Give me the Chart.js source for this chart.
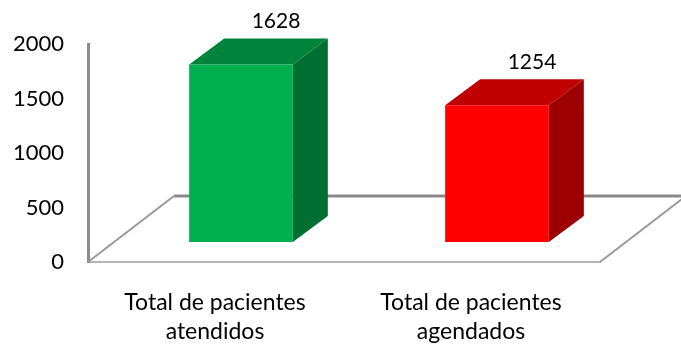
<!DOCTYPE html>
<html>
<head>
<meta charset="utf-8">
<style>
  body { margin: 0; background: #fff; }
  canvas { display: block; }
</style>
<script src="https://cdn.jsdelivr.net/npm/chart.js@4"></script>
</head>
<body>
<canvas id="chart" width="681" height="345"></canvas>
<script>
const categories = [["Total de pacientes", "atendidos"], ["Total de pacientes", "agendados"]];
const pacientes = [1628, 1254];
const yTicks = [0, 500, 1000, 1500, 2000];

const frontColors = ["#00b050", "#ff0000"];
const topColors = ["#00843c", "#c00000"];
const sideColors = ["#006f32", "#9c0000"];

const fontFamily = "Lato, 'Open Sans', sans-serif";

// the library has no 3D bars, so floor and box sides are added around its own bars
const shiftX = 25, shiftY = 20;   // where the front face sits on the floor
const depthX = 35, depthY = 26;   // box depth
const floorX = 86, floorY = 66;   // floor depth

function poly(ctx, color, pts) {
  ctx.fillStyle = color;
  ctx.beginPath();
  pts.forEach((p, i) => (i ? ctx.lineTo(p[0], p[1]) : ctx.moveTo(p[0], p[1])));
  ctx.closePath();
  ctx.fill();
}

const box3d = {
  id: "box3d",
  beforeDatasetsDraw(chart) {
    const ctx = chart.ctx;
    const a = chart.chartArea;
    ctx.save();
    ctx.strokeStyle = "#8a8a8a";
    ctx.lineWidth = 3;
    ctx.beginPath();
    ctx.moveTo(a.left + floorX, a.bottom - floorY);
    ctx.lineTo(chart.width, a.bottom - floorY);
    ctx.stroke();
    ctx.lineWidth = 2;
    ctx.strokeStyle = "#999999";
    ctx.beginPath();
    ctx.moveTo(a.left, a.bottom);
    ctx.lineTo(a.left + floorX, a.bottom - floorY);
    ctx.moveTo(a.right, a.bottom);
    ctx.lineTo(a.right + floorX, a.bottom - floorY);
    ctx.stroke();
    ctx.restore();
  },
  beforeDatasetDraw(chart, args) {
    const ctx = chart.ctx;
    args.meta.data.forEach((bar, i) => {
      const half = bar.width / 2;
      const l = bar.x - half + shiftX, r = bar.x + half + shiftX;
      const t = bar.y - shiftY, b = bar.base - shiftY;
      poly(ctx, topColors[i], [[l, t], [r, t], [r + depthX, t - depthY], [l + depthX, t - depthY]]);
      poly(ctx, sideColors[i], [[r, t], [r + depthX, t - depthY], [r + depthX, b - depthY], [r, b]]);
    });
    ctx.save();
    ctx.translate(shiftX, -shiftY);
  },
  afterDatasetDraw(chart, args) {
    const ctx = chart.ctx;
    ctx.restore();
    ctx.save();
    ctx.font = "21px " + fontFamily;
    ctx.fillStyle = "#000";
    ctx.textAlign = "center";
    ctx.textBaseline = "middle";
    args.meta.data.forEach((bar, i) => {
      ctx.fillText(String(pacientes[i]), bar.x + shiftX + depthX, bar.y - shiftY - depthY - 17);
    });
    ctx.restore();
  }
};

new Chart(document.getElementById("chart"), {
  type: "bar",
  data: {
    labels: categories,
    datasets: [{
      data: pacientes,
      backgroundColor: frontColors,
      borderWidth: 0,
      barPercentage: 0.405,
      categoryPercentage: 1,
      clip: false
    }]
  },
  options: {
    responsive: false,
    animation: false,
    layout: { padding: { top: 44, right: 81, left: 0, bottom: 0 } },
    plugins: { legend: { display: false }, tooltip: { enabled: false } },
    scales: {
      x: {
        grid: { display: false, drawTicks: false },
        border: { color: "#b4b4b4", width: 2 },
        ticks: {
          color: "#000",
          padding: 26,
          labelOffset: -1,
          maxRotation: 0,
          font: { family: fontFamily, size: 23, lineHeight: 1.26 }
        },
        afterFit(scale) { scale.height = 83; }
      },
      y: {
        min: 0,
        max: 2000,
        afterBuildTicks(scale) { scale.ticks = yTicks.map((v) => ({ value: v })); },
        grid: { display: false, drawTicks: false },
        border: { color: "#8c8c8c", width: 3 },
        ticks: {
          color: "#000",
          padding: 24,
          font: { family: fontFamily, size: 22 },
          callback: (v) => String(v)
        },
        afterFit(scale) { scale.width = 88; }
      }
    }
  },
  plugins: [box3d]
});
</script>
</body>
</html>
